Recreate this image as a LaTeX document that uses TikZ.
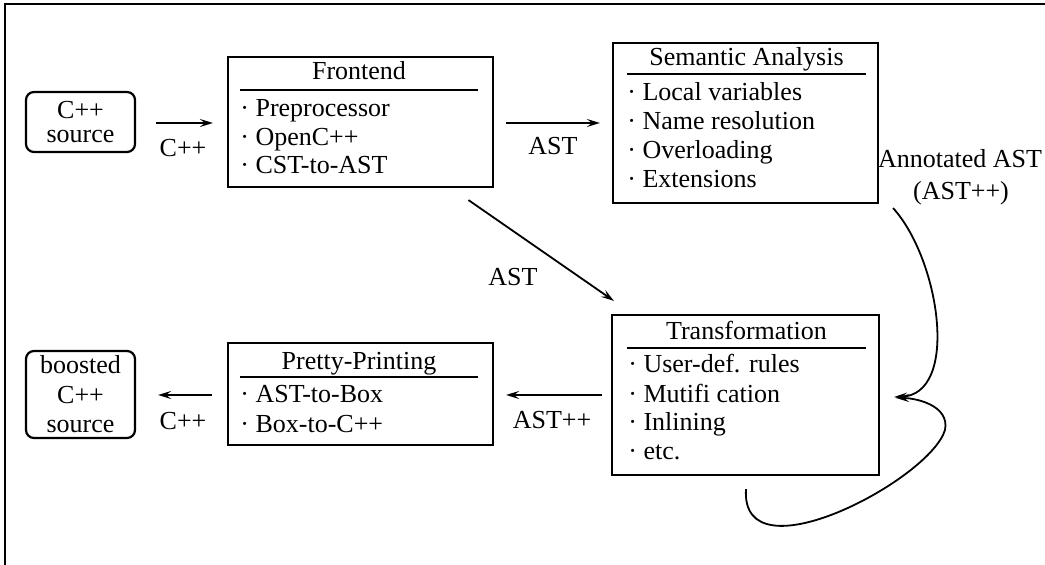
\documentclass[tikz,border=0pt]{standalone}
\usepackage{fontspec}
\setmainfont{Liberation Serif}
\usetikzlibrary{arrows.meta,calc}
\begin{document}
\begin{tikzpicture}[x=0.5pt,y=-0.5pt,
  lbl/.style={font=\fontsize{13}{15}\selectfont, inner sep=0pt},
  box/.style={draw, line width=1.1pt, inner sep=0pt},
  srcbox/.style={draw, line width=1.1pt, rounded corners=4pt, minimum width=54.5pt, align=center, inner sep=0pt},
  arr/.style={line width=0.9pt, -{Stealth[length=6.5pt,width=4pt,inset=2.5pt]}},
  item/.style={lbl, anchor=base west},
  ttl/.style={lbl, anchor=base},
  rulel/.style={line width=1.3pt},
  frame/.style={line width=1.4pt}
]
\useasboundingbox (0,0) rectangle (1045,565);
\draw[frame] (5,565) -- (5,4) -- (1045,4);

% source boxes
\node[srcbox, minimum height=30pt, font=\fontsize{13}{12.3}\selectfont] (cs) at (80.5,122) {C++\\source};
\node[srcbox, minimum height=43.5pt, font=\fontsize{13}{14.7}\selectfont] (bs) at (80.5,394.5) {boosted\\C++\\source};

% big boxes
\node[box, minimum width=132.5pt, minimum height=65pt] (fe) at (360.5,122) {};
\node[box, minimum width=132.5pt, minimum height=80pt] (sa) at (745.5,123) {};
\node[box, minimum width=133.5pt, minimum height=80pt] (tr) at (745.5,395) {};
\node[box, minimum width=132.5pt, minimum height=51pt] (pp) at (360.5,394) {};

% Frontend
\node[ttl] (fet) at (359,80) {Frontend};
\draw[rulel] (240,90) -- (478,90);
\node[item] (fe1) at (240,117) {· Preprocessor};
\node[item] (fe2) at (240,145.5) {· OpenC++};
\node[item] (fe3) at (240,174) {· CST-to-AST};

% Semantic Analysis
\node[ttl] (sat) at (746.5,66) {Semantic Analysis};
\draw[rulel] (627,74) -- (866,74);
\node[item] (sa1) at (627,101) {· Local variables};
\node[item] (sa2) at (627,130) {· Name resolution};
\node[item] (sa3) at (627,159) {· Overloading};
\node[item] (sa4) at (627,188) {· Extensions};

% Transformation
\node[ttl] (trt) at (746.5,340) {Transformation};
\draw[rulel] (627,348) -- (866,348);
\node[item] (tr1) at (628,373) {· User-def. rules};
\node[item] (tr2) at (628,403) {· Mutifi cation};
\node[item] (tr3) at (628,431) {· Inlining};
\node[item] (tr4) at (628,460) {· etc.};

% Pretty-Printing
\node[ttl] (ppt) at (359,370) {Pretty-Printing};
\draw[rulel] (240,377) -- (478,377);
\node[item] (pp1) at (240,403) {· AST-to-Box};
\node[item] (pp2) at (240,433) {· Box-to-C++};

% connector labels
\node[ttl] (l1) at (183,157) {C++};
\node[ttl] (l2) at (553,155) {AST};
\node[ttl] (l3) at (513,286) {AST};
\node[ttl] (l4) at (552,429) {AST++};
\node[ttl] (l5) at (183,430) {C++};
\node[ttl] (l6) at (960,168) {Annotated AST};
\node[ttl] (l7) at (961,200) {(AST++)};

% connectors
\draw[arr] ($(cs.east)+(20,1)$) -- ($(fe.west)+(-14,1)$);
\draw[arr] ($(fe.east)+(12,1)$) -- ($(sa.west)+(-12,0)$);
\draw[arr] ($(fe.south)+(108,12)$) -- ($(tr.north west)+(3,-13)$);
\draw[arr] ($(tr.west)+(-9,0)$) -- ($(pp.east)+(12,1)$);
\draw[arr] ($(pp.west)+(-15,1)$) -- ($(bs.east)+(22,0.5)$);
\draw[arr] ($(sa.south east)+(14,4)$) .. controls (940,260) and (960,395) .. ($(tr.east)+(14,2)$);
\draw[arr] ($(tr.south)+(0.5,13)$) .. controls (740,580) and (930,480) .. (945,430) .. controls (950,405) and (915,398) .. ($(tr.east)+(16,3)$);
\end{tikzpicture}
\end{document}
